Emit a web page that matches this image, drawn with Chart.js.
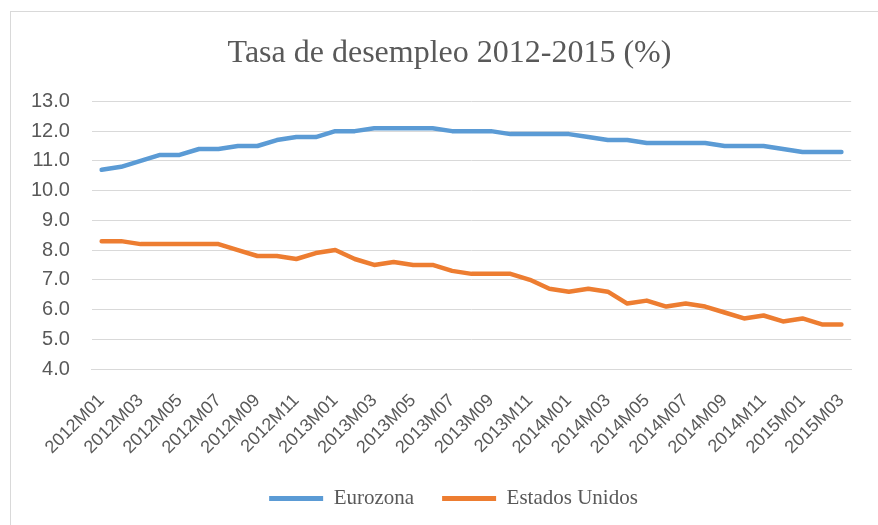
<!DOCTYPE html>
<html>
<head>
<meta charset="utf-8">
<script src="https://cdn.jsdelivr.net/npm/chart.js@4/dist/chart.umd.min.js"></script>
<style>
  html, body { margin: 0; padding: 0; background: #fff; }
  #wrap { width: 878px; height: 525px; }
</style>
</head>
<body>
<div id="wrap"><canvas id="chart" width="878" height="525"></canvas></div>
<script>
// months 2012M01 .. 2015M03
const months = [
  '2012M01','2012M02','2012M03','2012M04','2012M05','2012M06','2012M07','2012M08','2012M09','2012M10','2012M11','2012M12',
  '2013M01','2013M02','2013M03','2013M04','2013M05','2013M06','2013M07','2013M08','2013M09','2013M10','2013M11','2013M12',
  '2014M01','2014M02','2014M03','2014M04','2014M05','2014M06','2014M07','2014M08','2014M09','2014M10','2014M11','2014M12',
  '2015M01','2015M02','2015M03'
];
const eurozona = [
  10.7, 10.8, 11.0, 11.2, 11.2, 11.4, 11.4, 11.5, 11.5, 11.7, 11.8, 11.8,
  12.0, 12.0, 12.1, 12.1, 12.1, 12.1, 12.0, 12.0, 12.0, 11.9, 11.9, 11.9,
  11.9, 11.8, 11.7, 11.7, 11.6, 11.6, 11.6, 11.6, 11.5, 11.5, 11.5, 11.4,
  11.3, 11.3, 11.3
];
const estadosUnidos = [
  8.3, 8.3, 8.2, 8.2, 8.2, 8.2, 8.2, 8.0, 7.8, 7.8, 7.7, 7.9,
  8.0, 7.7, 7.5, 7.6, 7.5, 7.5, 7.3, 7.2, 7.2, 7.2, 7.0, 6.7,
  6.6, 6.7, 6.6, 6.2, 6.3, 6.1, 6.2, 6.1, 5.9, 5.7, 5.8, 5.6,
  5.7, 5.5, 5.5
];
const seriesNames = ['Eurozona', 'Estados Unidos'];
const yMin = 4, yMax = 13, yStep = 1;

const grey = '#595959';

// grey frame (only top and left edges are inside the picture)
const frame = {
  id: 'frame',
  beforeDraw(chart) {
    const c = chart.ctx;
    c.save();
    c.strokeStyle = '#d9d9d9';
    c.lineWidth = 1;
    c.strokeRect(10.5, 11.5, 2000, 2000);
    c.restore();
  },
  // excel centres title/legend on a wider frame, nudge them right
  afterLayout(chart) {
    chart.titleBlock.left += 18;
    chart.titleBlock.right += 18;
    chart.legend.left += 22;
    chart.legend.right += 22;
  }
};

const ctx = document.getElementById('chart').getContext('2d');
new Chart(ctx, {
  type: 'line',
  data: {
    labels: months,
    datasets: [
      {
        label: seriesNames[0],
        data: eurozona,
        borderColor: '#5b9bd5',
        backgroundColor: '#5b9bd5',
        borderWidth: 4.5,
        pointRadius: 0,
        tension: 0,
        borderCapStyle: 'round',
        borderJoinStyle: 'round'
      },
      {
        label: seriesNames[1],
        data: estadosUnidos,
        borderColor: '#ed7d31',
        backgroundColor: '#ed7d31',
        borderWidth: 4.5,
        pointRadius: 0,
        tension: 0,
        borderCapStyle: 'round',
        borderJoinStyle: 'round'
      }
    ]
  },
  options: {
    responsive: false,
    animation: false,
    layout: { padding: { left: 9, right: 24, top: 0, bottom: 6 } },
    plugins: {
      title: {
        display: true,
        text: 'Tasa de desempleo 2012-2015 (%)',
        color: grey,
        font: { family: 'Liberation Serif', size: 32, weight: 'normal' },
        padding: { top: 34, bottom: 29 }
      },
      legend: {
        position: 'bottom',
        labels: {
          color: grey,
          font: { family: 'Liberation Serif', size: 21 },
          boxWidth: 54,
          boxHeight: 5,
          padding: 28,
          generateLabels(chart) {
            const items = Chart.defaults.plugins.legend.labels.generateLabels(chart);
            items.forEach(it => { it.lineWidth = 0; });
            return items;
          }
        }
      },
      tooltip: { enabled: false }
    },
    scales: {
      x: {
        offset: true,
        grid: { display: false, drawTicks: false },
        border: { display: true, color: '#d9d9d9', width: 1 },
        afterFit(scale) { scale.height = 91; },
        ticks: {
          color: grey,
          font: { family: 'Liberation Sans', size: 18 },
          autoSkip: false,
          maxRotation: 45,
          minRotation: 45,
          padding: 21,
          callback(val, i) { return i % 2 === 0 ? months[i] : ''; }
        }
      },
      y: {
        min: yMin,
        max: yMax,
        grid: { color: '#d9d9d9', lineWidth: 1, drawTicks: false },
        border: { display: false },
        ticks: {
          stepSize: yStep,
          color: grey,
          font: { family: 'Liberation Sans', size: 20 },
          padding: 22,
          callback(v) { return Number(v).toFixed(1); }
        }
      }
    }
  },
  plugins: [frame]
});
</script>
</body>
</html>
